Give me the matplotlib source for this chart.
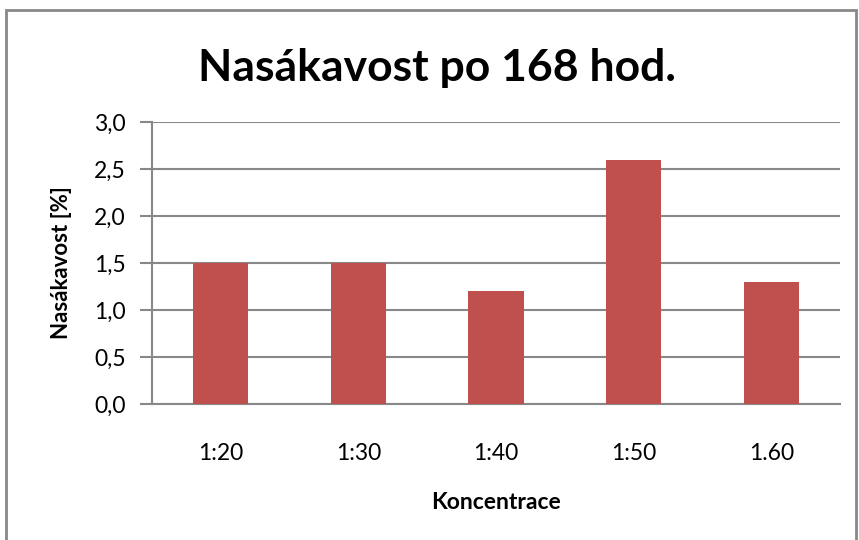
import numpy as np
import matplotlib.pyplot as plt
from matplotlib.patches import Rectangle

# data
categories = ['1:20', '1:30', '1:40', '1:50', '1.60']
values = [1.5, 1.5, 1.2, 2.6, 1.3]
yticks = [0.0, 0.5, 1.0, 1.5, 2.0, 2.5, 3.0]
ytick_labels = ['0,0', '0,5', '1,0', '1,5', '2,0', '2,5', '3,0']

plt.rcParams['font.family'] = ['Lato', 'DejaVu Sans']

fig = plt.figure(figsize=(8.59, 5.4), dpi=100)
ax = fig.add_axes([152/859, 1-404/540, (840-152)/859, (404-122)/540])

x = np.arange(len(categories))
ax.bar(x, values, width=0.4, color='#C0504D', zorder=3)

ax.set_xlim(-0.5, len(categories) - 0.5)
ax.set_ylim(0, 3.0)
ax.set_yticks(yticks)
ax.set_yticklabels(ytick_labels, fontsize=16.5)
ax.set_xticks(x)
ax.set_xticklabels(categories, fontsize=16.5)
ax.tick_params(axis='x', length=0, pad=28)
ax.tick_params(axis='y', length=9, width=1.5, color='#888888', pad=10)
ax.yaxis.grid(True, color='#888888', linewidth=1.5, zorder=0)

for s in ['top', 'right']:
    ax.spines[s].set_visible(False)
for s in ['left', 'bottom']:
    ax.spines[s].set_color('#888888')
    ax.spines[s].set_linewidth(1.5)

ax.set_xlabel('Koncentrace', fontsize=16.5, fontweight='bold', labelpad=20)
ax.set_ylabel('Nasákavost [%]', fontsize=16, fontweight='bold', labelpad=16)

fig.text(0.509, 1-68/540, 'Nasákavost po 168 hod.', fontsize=32, fontweight='bold',
         ha='center', va='center')

# chart border
fig.patches.append(Rectangle((6/859, -0.02), 850/859, 1.02 - 10/540,
                             transform=fig.transFigure, fill=False,
                             edgecolor='#888888', linewidth=2))

fig.savefig('out.png', dpi=100)
